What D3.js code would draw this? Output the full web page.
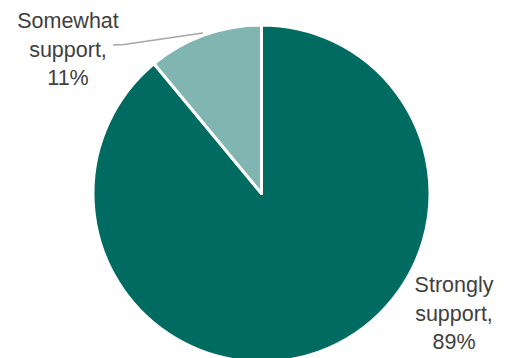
<!DOCTYPE html>
<html><head><meta charset="utf-8">
<script src="https://cdn.jsdelivr.net/npm/d3@7"></script>
<style>body{margin:0;background:#fff}svg{display:block}</style>
</head><body>
<svg id="c" width="509" height="358"></svg>
<script>
const categories = ["Strongly support", "Somewhat support"];
const values = [89, 11];
const labels = ["89%", "11%"];
const colors = ["#006B60", "#80B5B1"];

const svg = d3.select("#c");
const cx = 261.5, cy = 193.5, r = 168.5;
const pie = d3.pie().sort(null).value(d => d)(values);
const arc = d3.arc().innerRadius(0).outerRadius(r);
const g = svg.append("g").attr("transform", `translate(${cx},${cy})`);
g.selectAll("path").data(pie).join("path")
  .attr("d", arc)
  .attr("fill", (d, i) => colors[i])
  .attr("stroke", "#fff").attr("stroke-width", 3).attr("stroke-linejoin", "round");

// leader line for small slice
svg.append("polyline")
  .attr("points", "113,45 124,44.5 203,33")
  .attr("fill", "none").attr("stroke", "#A6A6A6").attr("stroke-width", 1.3);

const labelPos = [{x: 454, y: 292}, {x: 68, y: 28}];
const words = categories.map(c => c.split(" "));
labelPos.forEach((p, i) => {
  const t = svg.append("text")
    .attr("text-anchor", "middle")
    .attr("font-family", "Liberation Sans, Arial, sans-serif")
    .attr("font-size", 21.5)
    .attr("fill", "#404040");
  const lines = [words[i][0], words[i][1] + ",", labels[i]];
  lines.forEach((l, j) => t.append("tspan").attr("x", p.x).attr("y", p.y + j * 28.5).text(l));
});
</script>
</body></html>
